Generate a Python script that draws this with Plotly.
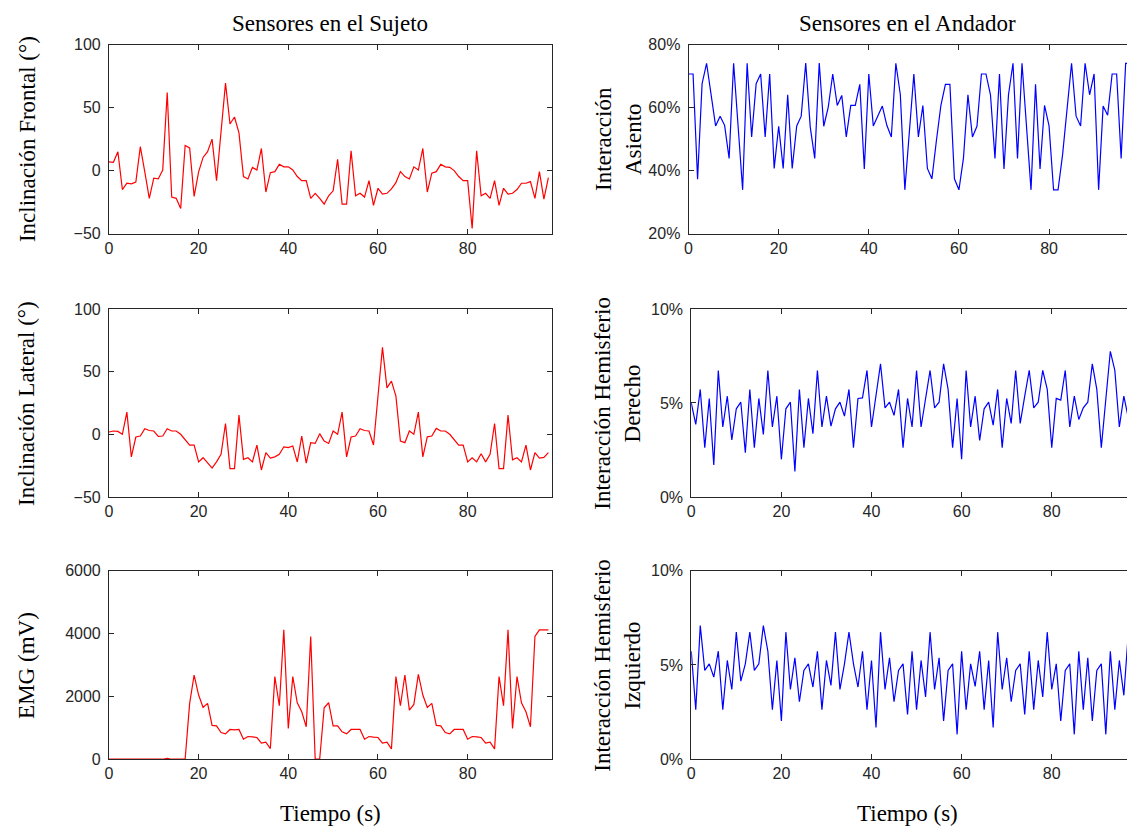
import plotly.graph_objects as go

# ---------------- data ----------------
frontal = [7, 6.6, 15, -15, -10, -10.5, -9, 19, -1, -22,
           -6, -6.6, 0.5, 62, -21, -22, -30, 20, 18, -20.5,
           -1, 10.5, 15, 25, -8, 28, 69.5, 37, 42.6, 30,
           -4.7, -6.6, 2.6, 0.5, 17.6, -17, -1.6, -0.8, 5, 3,
           3, 0.5, -4.7, -8, -8, -22, -18, -22, -26.6, -20,
           -16, 9, -26.6, -26.6, 15.8, -20, -18, -21, -8, -27.6,
           -14, -18.7, -18, -14.5, -9.5, -0.8, -4.7, -6.6, 3, 0.5,
           17.6, -17, -2, -0.8, 5, 3, 2.6, 0, -4.7, -8,
           -8, -46, 15.8, -20, -18, -22, -8, -27.6, -14, -18.7,
           -18, -15, -10, -10, -8.7, -22, -0.8, -22.6, -5.5]

lateral = [1.8, 2.6, 2.3, 0, 17.7, -18, -2.2, -1.4, 4.4, 3,
           2.6, -1.7, -1.4, 4.4, 2.6, 2.6, 0, -4.6, -8.6, -8.6,
           -22, -18.7, -22.6, -27, -22, -16, 8.6, -27.4, -27.4, 15.3,
           -20, -18.7, -22, -8.6, -28.5, -14.7, -19, -18, -16, -10,
           -10.7, -9.4, -22, -1.4, -23, -6.7, -7.3, 0.5, -5.4, -7.3,
           2.6, 0, 17.7, -18, -2.2, -1.4, 4.4, 3, 2.6, -8.6,
           30.4, 69.4, 37, 42.4, 30.4, -5.4, -6.7, 2.6, 0, 17.7,
           -18, -2, -1.4, 4.7, 2.6, 2.6, 0, -4.6, -8.6, -8.6,
           -22, -18.7, -22, -15.5, -22, -16, 8.6, -27.4, -27.4, 15.3,
           -20.4, -18.7, -22, -8.6, -28.5, -14.7, -19, -18.5, -14.7]

emg = [0, 0, 0, 0, 0, 0, 20, 0, 0, 15,
       0, 0, 0, 25, 0, 0, 0, 0, 1777, 2680,
       2043, 1650, 1777, 1075, 1064, 851, 809, 947, 936, 947,
       638, 723, 713, 691, 511, 543, 340, 2628, 1702, 4118,
       979, 2628, 1798, 1511, 1032, 3905, 0, 0, 1638, 1798,
       1064, 1064, 872, 809, 947, 936, 947, 638, 723, 702,
       691, 511, 543, 330, 2628, 1702, 2681, 1564, 1745, 2702,
       2043, 1650, 1777, 1075, 1064, 851, 809, 947, 936, 947,
       638, 723, 713, 691, 511, 543, 330, 2628, 1702, 4118,
       979, 2628, 1798, 1511, 1032, 3905, 4118, 4118, 4118]

asiento = [70.7, 70.7, 37.3, 67.6, 74.1, 63.9, 54.2, 57.3, 54.4, 43.9,
           74.1, 54, 33.9, 74.1, 50.7, 67.6, 70.7, 50.7, 70.7, 40.7,
           54.1, 40.7, 64.1, 40.7, 54.2, 57.3, 74.2, 53.9, 43.9, 74.2,
           54.1, 60.2, 70.7, 60.7, 63.9, 50.7, 60.7, 60.7, 67.4, 40.5,
           70.7, 54.2, 57.3, 60.5, 54.4, 50.7, 74.1, 64.1, 33.9, 52.3,
           70.7, 50.7, 60.7, 40.7, 37.4, 49.5, 60.7, 67.4, 67.4, 37.4,
           33.9, 43.9, 64.1, 50.7, 54.1, 70.7, 70.7, 64.1, 43.9, 70.7,
           40.5, 64.1, 74.1, 43.9, 74.1, 54, 33.9, 67.4, 40.5, 60.7,
           54.2, 33.9, 33.9, 45, 59, 74.1, 57.3, 54.2, 74.1, 64.1,
           70.7, 33.9, 60.5, 57.6, 70.7, 70.7, 43.9, 74.1, 74.1]

derecho = [5.0, 3.86, 5.72, 2.62, 5.24, 1.7, 6.73, 3.72, 5.36, 3.03,
           4.69, 5.04, 2.35, 5.72, 2.62, 5.24, 3.33, 6.73, 3.72, 5.36,
           2.0, 4.69, 5.04, 1.35, 5.72, 2.62, 5.24, 3.36, 6.73, 3.72,
           5.36, 3.77, 4.69, 5.04, 4.3, 5.72, 2.62, 5.24, 5.27, 6.73,
           3.72, 5.4, 7.08, 4.74, 5.04, 4.34, 5.72, 2.62, 5.24, 3.72,
           6.73, 3.72, 5.36, 6.73, 4.74, 5.04, 7.08, 5.72, 2.62, 5.24,
           2.0, 6.73, 3.72, 5.36, 3.0, 4.69, 5.04, 3.82, 5.72, 2.62,
           5.24, 3.91, 6.73, 3.91, 5.36, 6.73, 4.74, 5.04, 6.73, 5.72,
           2.62, 5.24, 5.15, 6.73, 3.72, 5.36, 4.12, 4.74, 5.04, 7.08,
           5.72, 2.62, 5.2, 7.75, 6.73, 3.72, 5.36, 4.2]

izquierdo = [5.73, 2.63, 7.09, 4.71, 5.06, 4.36, 5.73, 2.63, 5.24, 3.70,
             6.74, 4.14, 5.06, 6.74, 4.71, 5.06, 7.09, 5.73, 2.63, 5.24,
             2.03, 6.74, 3.70, 5.38, 3.05, 4.71, 5.06, 3.83, 5.73, 2.63,
             5.24, 3.92, 6.74, 3.70, 5.06, 6.74, 5.06, 3.83, 5.73, 2.63,
             5.24, 1.68, 6.74, 3.70, 5.38, 3.05, 4.71, 5.06, 2.38, 5.73,
             2.63, 5.24, 3.30, 6.74, 3.70, 5.38, 2.03, 4.71, 5.06, 1.32,
             5.73, 2.63, 5.06, 3.86, 5.73, 2.63, 5.24, 1.68, 6.74, 3.70,
             5.38, 3.05, 4.71, 5.06, 2.38, 5.73, 2.63, 5.24, 3.30, 6.74,
             3.70, 5.06, 2.03, 4.71, 5.06, 1.32, 5.73, 2.63, 5.38, 2.03,
             4.71, 5.06, 1.32, 5.73, 2.63, 5.24, 3.39, 6.74]

x_ticks = [0, 20, 40, 60, 80]
y_ticks_incl = [-50, 0, 50, 100]
y_ticks_emg = [0, 2000, 4000, 6000]
y_ticks_asiento = [20, 40, 60, 80]
y_ticks_hemi = [0, 5, 10]
col_titles = ["Sensores en el Sujeto", "Sensores en el Andador"]
x_title = "Tiempo (s)"
left_ylabels = ["Inclinación Frontal (°)", "Inclinación Lateral (°)", "EMG (mV)"]
right_ylabels = ["Interacción<br>Asiento", "Interacción Hemisferio<br>Derecho",
                 "Interacción Hemisferio<br>Izquierdo"]

# ---------------- layout geometry (pixels) ----------------
W, H = 1127, 826


def py(p):
    # compensate the observed vertical offset/scale of the rendered page
    return (p - 7.5) / 0.982


def px(p):
    return p - 2


rows_px = [(py(44.3), py(233.7)), (py(309.3), py(497.7)), (py(571.7), py(760.7))]
left_px = (px(107.3), px(551.7))
right_px = [(px(689.0), 1127.0), (px(691.7), 1127.0), (px(691.7), 1127.0)]
right_xmax = [97.3, 96.7, 96.7]


def fx(p):
    return p / W


def fy(p):
    return 1 - p / H


def pct(vals):
    return [f"{v}%" for v in vals]


AX = '#262626'
TICKFONT = dict(family='Liberation Sans, Arial, sans-serif', size=16, color=AX)
SERIF = dict(family='Liberation Serif, Times New Roman, serif', size=23, color='#000000')

fig = go.Figure()

series = [
    (frontal, 'red', 0, 'L'), (asiento, 'blue', 0, 'R'),
    (lateral, 'red', 1, 'L'), (derecho, 'blue', 1, 'R'),
    (emg, 'red', 2, 'L'), (izquierdo, 'blue', 2, 'R'),
]

yconf = {
    1: dict(range=[-50, 100], tickvals=y_ticks_incl),
    2: dict(range=[20, 80], tickvals=y_ticks_asiento, ticktext=pct(y_ticks_asiento)),
    3: dict(range=[-50, 100], tickvals=y_ticks_incl),
    4: dict(range=[0, 10], tickvals=y_ticks_hemi, ticktext=pct(y_ticks_hemi)),
    5: dict(range=[0, 6000], tickvals=y_ticks_emg),
    6: dict(range=[0, 10], tickvals=y_ticks_hemi, ticktext=pct(y_ticks_hemi)),
}

layout_axes = {}
for k, (vals, color, r, side) in enumerate(series, start=1):
    t = list(range(len(vals)))
    suffix = '' if k == 1 else str(k)
    fig.add_trace(go.Scatter(x=t, y=vals, mode='lines',
                             line=dict(color=color, width=1.2),
                             xaxis='x' + suffix, yaxis='y' + suffix,
                             showlegend=False, hoverinfo='skip'))
    top, bot = rows_px[r]
    if side == 'L':
        x0, x1 = left_px
        xr = [0, 98.75]
        ymirror = 'ticks'
    else:
        x0, x1 = right_px[r]
        xr = [0, right_xmax[r]]
        ymirror = False
    common = dict(showline=True, linecolor=AX, linewidth=1, ticks='inside',
                  ticklen=5, tickcolor=AX, tickwidth=1, showgrid=False,
                  zeroline=False, tickfont=TICKFONT)
    layout_axes['xaxis' + suffix] = dict(
        domain=[fx(x0), min(1.0, fx(x1))], anchor='y' + suffix,
        range=xr, tickvals=x_ticks, mirror='ticks', **common)
    layout_axes['yaxis' + suffix] = dict(
        domain=[fy(bot), fy(top)], anchor='x' + suffix,
        mirror=ymirror, ticklabelstandoff=4, **yconf[k], **common)

fig.update_layout(**layout_axes)

annotations = []
for i, (x0, x1) in enumerate([left_px, right_px[0]]):
    cx = fx((x0 + x1) / 2)
    annotations.append(dict(text=col_titles[i], x=cx, y=fy(py(23)), xref='paper', yref='paper',
                            xanchor='center', yanchor='middle', showarrow=False, font=SERIF))
    annotations.append(dict(text=x_title, x=cx, y=fy(py(815)), xref='paper', yref='paper',
                            xanchor='center', yanchor='middle', showarrow=False, font=SERIF))
for r in range(3):
    top, bot = rows_px[r]
    cy = fy((top + bot) / 2)
    annotations.append(dict(text=left_ylabels[r], x=fx(px(25)), y=cy, xref='paper', yref='paper',
                            xanchor='center', yanchor='middle', textangle=-90,
                            showarrow=False, font=SERIF))
    annotations.append(dict(text=right_ylabels[r], x=fx(616), y=cy, xref='paper', yref='paper',
                            xanchor='center', yanchor='middle', textangle=-90,
                            showarrow=False, font=SERIF))

fig.update_layout(
    width=W, height=H,
    margin=dict(l=0, r=0, t=0, b=0),
    paper_bgcolor='white', plot_bgcolor='white',
    annotations=annotations,
)

fig.write_html("out.html", config={'displayModeBar': False},
               post_script="document.body.style.margin='0';document.body.style.overflow='hidden';")
